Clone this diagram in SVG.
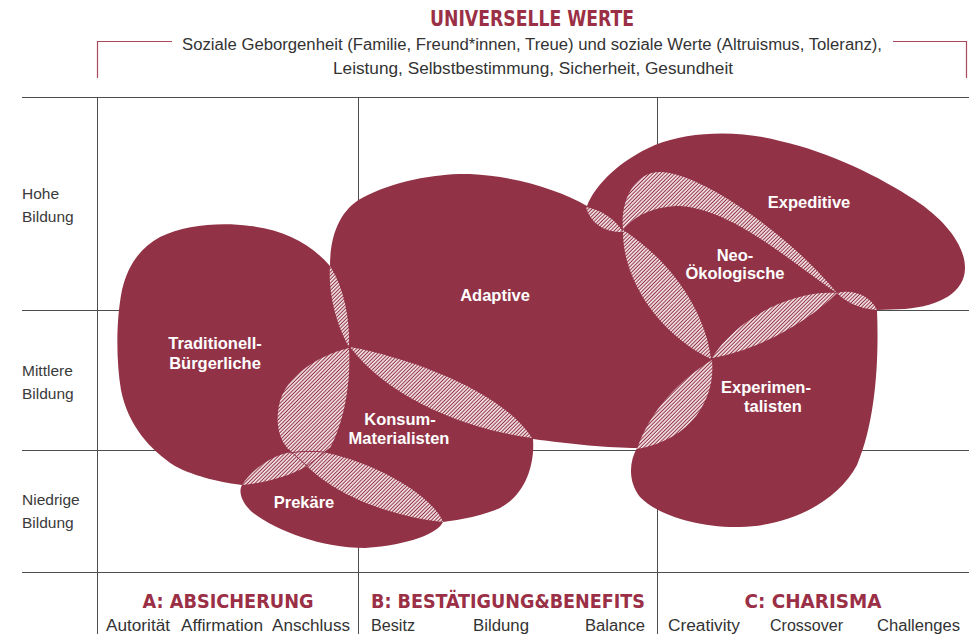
<svg xmlns="http://www.w3.org/2000/svg" width="969" height="634" viewBox="0 0 969 634">
<defs>
<pattern id="hatch" width="2.6" height="2.6" patternUnits="userSpaceOnUse" patternTransform="rotate(-45)">
<rect width="2.6" height="2.6" fill="#923246"/>
<rect width="2.6" height="1.6" fill="#f3e4e6"/>
</pattern>
</defs>
<style>
.grid{stroke:#4d4d4d;stroke-width:1;fill:none}
.brk{stroke:#a84a5c;stroke-width:1.2;fill:none}
.blob{fill:#923246}
.lens{fill:url(#hatch)}
.lbl{font-family:"Liberation Sans",Arial,sans-serif;font-weight:bold;font-size:16.5px;fill:#ffffff;text-anchor:middle}
.head{font-family:"Liberation Sans Narrow","DejaVu Sans Condensed","Liberation Sans",sans-serif;font-weight:bold;fill:#9a2f46}
.sub{font-family:"Liberation Sans Narrow","Liberation Sans",Arial,sans-serif;fill:#333333;font-size:16px}
.side{font-family:"Liberation Sans",Arial,sans-serif;fill:#3a3a3a;font-size:15.5px}
</style>
<rect width="969" height="634" fill="#ffffff"/>
<g id="grid">
<line class="grid" x1="22" y1="97.5" x2="969" y2="97.5" stroke-width="1.6"/>
<line class="grid" x1="22" y1="310.5" x2="969" y2="310.5"/>
<line class="grid" x1="22" y1="450.5" x2="969" y2="450.5"/>
<line class="grid" x1="22" y1="572.5" x2="969" y2="572.5" stroke-width="1.6"/>
<line class="grid" x1="97.5" y1="97" x2="97.5" y2="634"/>
<line class="grid" x1="358.5" y1="97" x2="358.5" y2="634"/>
<line class="grid" x1="657.5" y1="97" x2="657.5" y2="634"/>
</g>
<g id="header">
<path class="brk" d="M97.5,78 V41.5 H172"/>
<path class="brk" d="M893,41.5 H966.5 V78"/>
<text class="head" x="532" y="26" font-size="21" text-anchor="middle" textLength="204" lengthAdjust="spacingAndGlyphs">UNIVERSELLE WERTE</text>
<text class="sub" x="532" y="50" font-size="15.5" text-anchor="middle" textLength="700" lengthAdjust="spacingAndGlyphs">Soziale Geborgenheit (Familie, Freund*innen, Treue) und soziale Werte (Altruismus, Toleranz),</text>
<text class="sub" x="533" y="74" font-size="15.5" text-anchor="middle" textLength="400" lengthAdjust="spacingAndGlyphs">Leistung, Selbstbestimmung, Sicherheit, Gesundheit</text>
</g>
<g id="axis-bildung">
<text class="side" x="22" y="199">Hohe</text>
<text class="side" x="22" y="222">Bildung</text>
<text class="side" x="22" y="376">Mittlere</text>
<text class="side" x="22" y="399">Bildung</text>
<text class="side" x="22" y="505">Niedrige</text>
<text class="side" x="22" y="528">Bildung</text>
</g>
<g id="axis-werte">
<text class="head" x="228" y="608" font-size="20" text-anchor="middle" textLength="171" lengthAdjust="spacingAndGlyphs">A: ABSICHERUNG</text>
<text class="head" x="508" y="608" font-size="20" text-anchor="middle" textLength="274" lengthAdjust="spacingAndGlyphs">B: BESTÄTIGUNG&amp;BENEFITS</text>
<text class="head" x="813" y="608" font-size="20" text-anchor="middle" textLength="137" lengthAdjust="spacingAndGlyphs">C: CHARISMA</text>
<text class="sub" x="106" y="631" textLength="64" lengthAdjust="spacingAndGlyphs">Autorität</text>
<text class="sub" x="181" y="631" textLength="82" lengthAdjust="spacingAndGlyphs">Affirmation</text>
<text class="sub" x="272" y="631" textLength="78" lengthAdjust="spacingAndGlyphs">Anschluss</text>
<text class="sub" x="371" y="631" textLength="44" lengthAdjust="spacingAndGlyphs">Besitz</text>
<text class="sub" x="473" y="631" textLength="56" lengthAdjust="spacingAndGlyphs">Bildung</text>
<text class="sub" x="585" y="631" textLength="60" lengthAdjust="spacingAndGlyphs">Balance</text>
<text class="sub" x="668" y="631" textLength="72" lengthAdjust="spacingAndGlyphs">Creativity</text>
<text class="sub" x="770" y="631" textLength="73" lengthAdjust="spacingAndGlyphs">Crossover</text>
<text class="sub" x="877" y="631" textLength="83" lengthAdjust="spacingAndGlyphs">Challenges</text>
</g>
<g id="milieus">
<path class="blob" d="M330,266 C330,235 340,210 362,198 C395,180 440,173 470,174 C515,176 560,190 587,206 C595,185 620,160 655,145 C690,131 740,130 780,141 C830,152 880,177 915,200 C945,220 965,245 965,268 C965,292 940,306 905,309 L877,310 C879,360 876,420 857,465 C837,502 790,526 740,527 C695,528 655,513 640,497 C628,482 629,462 637,448 C610,448 570,444 533,439 C535,465 525,495 500,508 C485,515 460,520 443,522 C438,533 410,545 365,548 C320,548 275,530 252,512 C242,503 238,492 242,485 C225,483 195,477 175,466 C150,450 128,425 121,390 C116,360 116,320 122,290 C128,265 140,248 160,237 C185,225 220,222 250,226 C285,230 312,245 330,266 Z"/>
</g>
<g id="overlaps">
<path class="lens" d="M330,266 C328,292 336,325 349,347 C350,318 344,288 330,266 Z"/>
<path class="lens" d="M349,348 C351,380 345,420 330,448 L307,466 L288,449 C280,440 275,425 279,405 C285,375 320,355 349,348 Z"/>
<path class="lens" d="M242,485 C255,466 275,454 293,452 L307,466 C290,476 265,483 242,485 Z"/>
<path class="lens" d="M307,466 C330,490 380,515 443,522 C435,500 385,465 323,452 Z"/>
<path d="M288,449 L307,466 L330,448 M290,453 C300,451 314,451 324,452" stroke="#923246" stroke-width="1" fill="none"/>
<path class="lens" d="M350,347 C420,360 505,395 532,438 C470,430 390,400 350,347 Z"/>
<path class="lens" d="M586,207 C602,210 616,220 623,232 C605,233 590,223 586,207 Z"/>
<path class="lens" d="M623,230 C620,200 635,172 660,172 C700,172 790,235 837,293 C790,262 735,210 680,206 C655,206 635,215 623,230 Z"/>
<path class="lens" d="M623,230 C622,280 660,335 711,359 C705,310 670,260 623,230 Z"/>
<path class="lens" d="M712,358 C735,320 790,290 837,293 C810,320 760,350 712,358 Z"/>
<path class="lens" d="M837,293 C852,289 870,295 877,310 C860,309 845,302 837,293 Z"/>
<path class="lens" d="M712,360 C716,400 690,440 637,449 C650,410 680,380 712,360 Z"/>
</g>
<g id="traditionell-buergerliche"><text class="lbl" x="215" y="349">Traditionell-</text><text class="lbl" x="215" y="369">Bürgerliche</text></g>
<g id="adaptive"><text class="lbl" x="495" y="301">Adaptive</text></g>
<g id="konsum-materialisten"><text class="lbl" x="400" y="425">Konsum-</text><text class="lbl" x="399" y="444">Materialisten</text></g>
<g id="prekaere"><text class="lbl" x="304" y="508">Prekäre</text></g>
<g id="expeditive"><text class="lbl" x="809" y="208">Expeditive</text></g>
<g id="neo-oekologische"><text class="lbl" x="735" y="261">Neo-</text><text class="lbl" x="735" y="279">Ökologische</text></g>
<g id="experimentalisten"><text class="lbl" x="766" y="393">Experimen-</text><text class="lbl" x="773" y="412">talisten</text></g>
</svg>
